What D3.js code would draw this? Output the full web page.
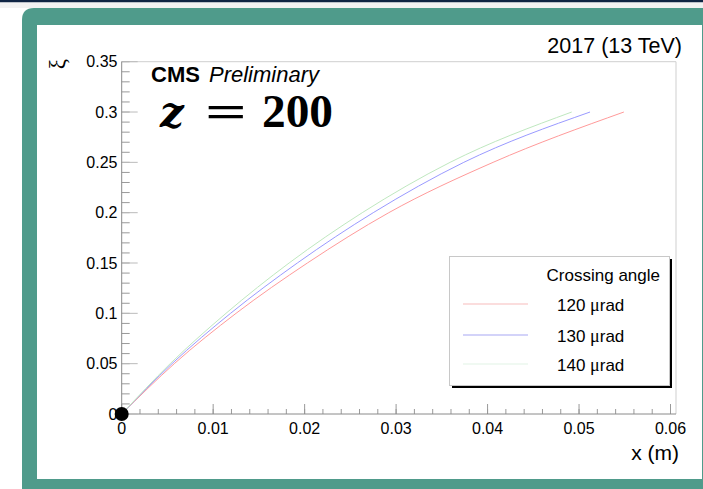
<!DOCTYPE html>
<html>
<head>
<meta charset="utf-8">
<script src="https://cdn.jsdelivr.net/npm/d3@7"></script>
<style>
  html, body { margin: 0; padding: 0; background: #fff; }
  svg { display: block; }
  text { font-family: "Liberation Sans", Arial, Helvetica, sans-serif; fill: #000; }
</style>
</head>
<body>
<svg id="chart" width="703" height="489"></svg>
<script>
// ξ values at which the track positions are sampled
const xiSamples = [0, 0.05, 0.10, 0.15, 0.20, 0.25, 0.30];
// horizontal position x (m) for each crossing angle
const x120 = [0, 0.00575, 0.0125, 0.0203, 0.0292, 0.0406, 0.0549];
const x130 = [0, 0.0055, 0.0119, 0.0192, 0.0275, 0.0374, 0.0512];
const x140 = [0, 0.0053, 0.0114, 0.0183, 0.0263, 0.0359, 0.0492];
const seriesAngles = ["120", "130", "140"];
const seriesColors = ["#ff9a9a", "#9a9aff", "#bfe8bf"];
const legendColors = ["#f7bcbc", "#a8a8f4", "#e2f4e6"];
const xTicks = [0, 0.01, 0.02, 0.03, 0.04, 0.05, 0.06];
const yTicks = [0, 0.05, 0.1, 0.15, 0.2, 0.25, 0.3, 0.35];
const originPoint = [0, 0];

const svg = d3.select("#chart");
const serif = "'Liberation Serif', 'DejaVu Serif', serif";

// page frame
svg.append("rect").attr("x", 0).attr("y", 0).attr("width", 703).attr("height", 2.5).attr("fill", "#0f2443");
svg.append("rect").attr("x", 0).attr("y", 2.5).attr("width", 703).attr("height", 5.5).attr("fill", "#f2f2f2");
svg.append("path")
  .attr("d", "M22,489 L22,20 Q22,8 34,8 L703,8 L703,489 Z")
  .attr("fill", "#4f9b8b");
svg.append("rect").attr("x", 37).attr("y", 25).attr("width", 665).attr("height", 454).attr("fill", "#fff");

const margin = { left: 121.7, right: 676, top: 61.7, bottom: 414 };
const x = d3.scaleLinear().domain([0, 0.0606]).range([margin.left, margin.right]);
const y = d3.scaleLinear().domain([0, 0.35]).range([margin.bottom, margin.top]);

// frame box (top/right)
svg.append("path")
  .attr("d", `M${margin.left},${margin.top} L${margin.right},${margin.top} L${margin.right},${margin.bottom}`)
  .attr("fill", "none").attr("stroke", "#cfcfcf").attr("stroke-width", 1);

// x axis with inward ticks
const xMinor = d3.range(0, 0.0606, 0.002);
const xAxisG = svg.append("g");
xAxisG.selectAll("line.minor").data(xMinor).join("line")
  .attr("x1", d => x(d)).attr("x2", d => x(d))
  .attr("y1", margin.bottom).attr("y2", margin.bottom - 5)
  .attr("stroke", "#999");
xAxisG.selectAll("line.major").data(xTicks).join("line")
  .attr("x1", d => x(d)).attr("x2", d => x(d))
  .attr("y1", margin.bottom).attr("y2", margin.bottom - 10)
  .attr("stroke", "#999");
xAxisG.append("line")
  .attr("x1", margin.left).attr("x2", margin.right)
  .attr("y1", margin.bottom).attr("y2", margin.bottom)
  .attr("stroke", "#8a8a8a");
xAxisG.selectAll("text").data(xTicks).join("text")
  .attr("x", d => x(d)).attr("y", 434)
  .attr("text-anchor", "middle").attr("font-size", 16)
  .text(d => d3.format("")(d));

// y axis with inward ticks
const yMinor = d3.range(0, 0.3501, 0.01);
const yAxisG = svg.append("g");
yAxisG.selectAll("line.minor").data(yMinor).join("line")
  .attr("x1", margin.left).attr("x2", margin.left + 8)
  .attr("y1", d => y(d)).attr("y2", d => y(d))
  .attr("stroke", "#999");
yAxisG.selectAll("line.major").data(yTicks).join("line")
  .attr("x1", margin.left).attr("x2", margin.left + 16)
  .attr("y1", d => y(d)).attr("y2", d => y(d))
  .attr("stroke", "#bbb");
yAxisG.append("line")
  .attr("x1", margin.left).attr("x2", margin.left)
  .attr("y1", margin.top).attr("y2", margin.bottom)
  .attr("stroke", "#8a8a8a");
yAxisG.selectAll("text").data(yTicks).join("text")
  .attr("x", 117.5).attr("y", d => y(d)).attr("dy", "0.36em")
  .attr("text-anchor", "end").attr("font-size", 16)
  .text(d => d3.format("")(d));

// axis titles
svg.append("text").attr("x", 679).attr("y", 460)
  .attr("text-anchor", "end").attr("font-size", 21).text("x (m)");
svg.append("text")
  .attr("transform", "translate(65,59) rotate(-90)")
  .attr("text-anchor", "end").attr("font-size", 23)
  .style("font-family", serif)
  .text("\u03be");

// curves
const line = d3.line().curve(d3.curveMonotoneX).x(d => x(d[0])).y(d => y(d[1]));
[x120, x130, x140].forEach((xs, i) => {
  const pts = xs.map((v, k) => [v, xiSamples[k]]);
  svg.append("path").datum(pts)
    .attr("d", line)
    .attr("fill", "none")
    .attr("stroke", seriesColors[i])
    .attr("stroke-width", 1);
});

// origin marker
svg.append("circle")
  .attr("cx", x(originPoint[0])).attr("cy", y(originPoint[1]))
  .attr("r", 7).attr("fill", "#000");

// labels
svg.append("text").attr("x", 682).attr("y", 53)
  .attr("text-anchor", "end").attr("font-size", 21.5).text("2017 (13 TeV)");
svg.append("text").attr("x", 151).attr("y", 82).attr("font-size", 22)
  .attr("font-weight", "bold").text("CMS");
svg.append("text").attr("x", 209).attr("y", 82).attr("font-size", 22)
  .attr("font-style", "italic").text("Preliminary");

// z = 200
svg.append("text").attr("x", 160).attr("y", 127).attr("font-size", 42)
  .attr("font-weight", "bold").attr("font-style", "italic")
  .style("font-family", "'DejaVu Serif', serif").text("z");
svg.append("text").attr("font-size", 46).attr("font-weight", "bold")
  .attr("transform", "translate(205,127) scale(1.6,1)")
  .style("font-family", serif).text("=");
svg.append("text").attr("font-size", 46)
  .attr("font-weight", "bold").style("font-family", serif)
  .attr("transform", "translate(262,127) scale(1.03,1)").text("200");

// legend
const lg = svg.append("g");
lg.append("rect").attr("x", 452).attr("y", 385).attr("width", 220).attr("height", 3).attr("fill", "#000");
lg.append("rect").attr("x", 669).attr("y", 259).attr("width", 3).attr("height", 129).attr("fill", "#000");
lg.append("rect").attr("x", 449.5).attr("y", 256.5).attr("width", 220).attr("height", 129)
  .attr("fill", "#fff").attr("stroke", "#c8c8c8");
lg.append("text").attr("x", 660).attr("y", 281)
  .attr("text-anchor", "end").attr("font-size", 17).text("Crossing angle");
const rowsY = [304, 335, 364];
seriesAngles.forEach((a, i) => {
  lg.append("line").attr("x1", 463).attr("x2", 528)
    .attr("y1", rowsY[i]).attr("y2", rowsY[i])
    .attr("stroke", legendColors[i]).attr("stroke-width", 1.2);
  const t = lg.append("text").attr("x", 557).attr("y", rowsY[i] + 7).attr("font-size", 17);
  t.append("tspan").text(a + " ");
  t.append("tspan").style("font-family", serif).attr("font-size", 18).text("\u03bc");
  t.append("tspan").text("rad");
});
</script>
</body>
</html>
